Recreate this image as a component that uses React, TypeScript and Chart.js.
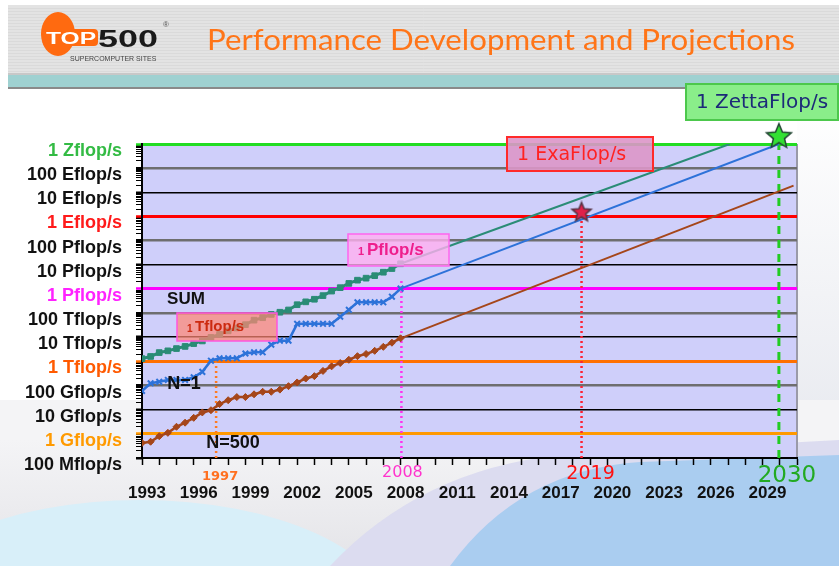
import React, { useEffect, useRef } from 'react';
import { Chart, registerables } from 'chart.js';
Chart.register(...registerables);

// ---- data (performance in Gflop/s) ----
const listYears = [1993, 1993.5, 1994, 1994.5, 1995, 1995.5, 1996, 1996.5, 1997, 1997.5, 1998, 1998.5, 1999, 1999.5, 2000, 2000.5, 2001, 2001.5, 2002, 2002.5, 2003, 2003.5, 2004, 2004.5, 2005, 2005.5, 2006, 2006.5, 2007, 2007.5, 2008];
const sumGflops = [1300, 1600, 2317, 2732, 3394, 4161, 5454, 7022, 9837, 13112, 18403, 24200, 33100, 50900, 64300, 88100, 108500, 134500, 222000, 292000, 374000, 528000, 813000, 1127000, 1690000, 2300000, 2790000, 3540000, 4920000, 6970000, 11000000];
const n1Gflops = [59.7, 124, 143.4, 170, 170, 170, 220.4, 368.2, 1068, 1338, 1338, 1338, 2121, 2379, 2379, 4938, 7226, 7226, 35860, 35860, 35860, 35860, 35860, 70720, 136800, 280600, 280600, 280600, 280600, 478200, 1026000];
const n500Gflops = [0.422, 0.472, 0.8, 1.1, 1.96, 2.9, 4.6, 7.7, 9.5, 17.1, 24.7, 33.3, 33.3, 43.3, 55.1, 55.1, 67.8, 94.3, 134, 195, 245, 403, 624, 851, 1166, 1646, 2026, 2737, 4005, 5929, 9000];

const projSumYears = [2008, 2027.1];
const projSumGflops = [11000000, 1e12];
const projN1Years = [2008, 2029.95];
const projN1Gflops = [1026000, 1e12];
const projN500Years = [2008, 2030.8];
const projN500Gflops = [9000, 1.9e10];

const markerYears = [1997.3, 2008.05, 2018.5, 2029.95];
const markerTops = [1000, 2.3e6, 1.46e9, 2e12];
const markerLabels = ['1997', '2008', '2019', '2030'];

const starYears = [2018.5, 2029.95];
const starGflops = [1.46e9, 2e12];

const yTickLabels = ['100 Mflop/s', '1 Gflop/s', '10 Gflop/s', '100 Gflop/s', '1 Tflop/s', '10 Tflop/s', '100 Tflop/s', '1 Pflop/s', '10 Pflop/s', '100 Pflop/s', '1 Eflop/s', '10 Eflop/s', '100 Eflop/s', '1 Zflop/s'];
const xTickYears = [1993, 1996, 1999, 2002, 2005, 2008, 2011, 2014, 2017, 2020, 2023, 2026, 2029];
const seriesNames = ['SUM', 'N=1', 'N=500'];
const title = 'Performance Development and Projections';
const boxTexts = ['1 Tflop/s', '1 Pflop/s', '1 ExaFlop/s', '1 ZettaFlop/s'];

// ---- styles ----
const SANS = '"Liberation Sans", Arial, sans-serif';
const DEJA = '"DejaVu Sans", Verdana, sans-serif';
const specialLine: Record<number, string> = { 1: '#ff9900', 4: '#ff7000', 7: '#ff00ff', 10: '#ff0000', 13: '#22dd22' };
const specialText: Record<number, string> = { 1: '#ff9a00', 4: '#ff5a00', 7: '#ff22ff', 10: '#ff1a1a', 13: '#33bb44' };

const decIdx = (v: number) => Math.round(Math.log10(v)) + 1;
const isMajor = (v: number) => Math.abs(Math.log10(v) - Math.round(Math.log10(v))) < 1e-6;

function makeStar(r: number, fill: string, stroke: string) {
  const c = document.createElement('canvas');
  const s = Math.ceil(r * 2 + 4);
  c.width = s; c.height = s;
  const g = c.getContext('2d')!;
  g.beginPath();
  for (let i = 0; i < 10; i++) {
    const rr = i % 2 === 0 ? r : r * 0.45;
    const a = -Math.PI / 2 + (i * Math.PI) / 5;
    const px = s / 2 + rr * Math.cos(a);
    const py = s / 2 + rr * Math.sin(a);
    if (i === 0) g.moveTo(px, py); else g.lineTo(px, py);
  }
  g.closePath();
  g.fillStyle = fill; g.fill();
  g.lineWidth = 1.5; g.strokeStyle = stroke; g.stroke();
  return c;
}

function fitText(ctx: CanvasRenderingContext2D, text: string, x: number, y: number, w: number) {
  const mw = ctx.measureText(text).width;
  ctx.save();
  ctx.translate(x, y);
  ctx.scale(w / mw, 1);
  ctx.fillText(text, 0, 0);
  ctx.restore();
}

const decorPlugin = {
  id: 'decor',
  beforeDraw(chart: any) {
    const ctx = chart.ctx as CanvasRenderingContext2D;
    const W = chart.width, H = chart.height;
    const ca = chart.chartArea;
    ctx.save();
    // page background
    ctx.fillStyle = '#ffffff';
    ctx.fillRect(0, 0, W, H);
    let gr = ctx.createLinearGradient(0, 100, 0, 470);
    gr.addColorStop(0, '#ffffff'); gr.addColorStop(1, '#e6e8ee');
    ctx.fillStyle = gr; ctx.fillRect(797, 90, 42, 380);
    gr = ctx.createLinearGradient(0, 440, 0, 566);
    gr.addColorStop(0, '#f4f4f6'); gr.addColorStop(1, '#e4e4e8');
    ctx.fillStyle = gr; ctx.fillRect(0, 400, W, 166);
    ctx.fillStyle = '#d8eff9';
    ctx.beginPath(); ctx.ellipse(140, 615, 250, 115, 0, 0, Math.PI * 2); ctx.fill();
    ctx.fillStyle = '#dcdcf0';
    ctx.beginPath();
    ctx.moveTo(330, 566); ctx.quadraticCurveTo(420, 470, 560, 455); ctx.lineTo(839, 440); ctx.lineTo(839, 566); ctx.closePath(); ctx.fill();
    ctx.fillStyle = '#aacdf0';
    ctx.beginPath();
    ctx.moveTo(450, 566); ctx.quadraticCurveTo(520, 470, 640, 462); ctx.lineTo(839, 455); ctx.lineTo(839, 566); ctx.closePath(); ctx.fill();

    // header
    ctx.fillStyle = '#e3e3e3';
    ctx.fillRect(8, 5, W - 8, 69);
    ctx.strokeStyle = '#dadada'; ctx.lineWidth = 1;
    for (let y = 8; y < 74; y += 3) { ctx.beginPath(); ctx.moveTo(8, y + 0.5); ctx.lineTo(W, y + 0.5); ctx.stroke(); }
    ctx.fillStyle = '#c8c8c8'; ctx.fillRect(8, 73, W - 8, 2);
    ctx.fillStyle = '#9fd1d1'; ctx.fillRect(8, 75, W - 8, 12);
    ctx.fillStyle = '#8a8a8a'; ctx.fillRect(8, 87, W - 8, 2);
    // logo
    ctx.fillStyle = '#ff6a10';
    ctx.beginPath(); ctx.ellipse(58, 34, 17, 22, 0, 0, Math.PI * 2); ctx.fill();
    ctx.beginPath(); ctx.roundRect(43, 29, 55, 17, 4); ctx.fill();
    ctx.textBaseline = 'alphabetic'; ctx.textAlign = 'left';
    ctx.fillStyle = '#ffffff';
    ctx.font = 'bold 16px ' + SANS;
    fitText(ctx, 'TOP', 46, 44, 50);
    ctx.fillStyle = '#1a1a1a';
    ctx.font = 'bold 24px ' + SANS;
    fitText(ctx, '500', 98, 47, 60);
    ctx.font = '8px ' + SANS; ctx.fillStyle = '#555';
    ctx.fillText('®', 163, 27);
    ctx.font = '7px ' + SANS; ctx.fillStyle = '#444';
    ctx.fillText('SUPERCOMPUTER SITES', 70, 61, 92);
    // title
    ctx.font = '29px Lato, "Open Sans", sans-serif';
    ctx.fillStyle = '#ff7518';
    fitText(ctx, title, 207, 50, 588);

    // plot background
    ctx.fillStyle = '#cfcffa';
    ctx.fillRect(ca.left, ca.top, ca.right - ca.left, ca.bottom - ca.top);
    ctx.fillStyle = '#9a9aa8';
    ctx.fillRect(ca.right - 1, ca.top, 2, ca.bottom - ca.top);
    ctx.restore();
  },
  afterDatasetsDraw(chart: any) {
    const ctx = chart.ctx as CanvasRenderingContext2D;
    ctx.save();
    ctx.textBaseline = 'middle';
    ctx.textAlign = 'left';
    // 1 Tflop/s box
    ctx.fillStyle = 'rgba(255,135,115,0.72)';
    ctx.fillRect(177, 313, 100, 28);
    ctx.strokeStyle = '#ff55dd'; ctx.lineWidth = 1.5; ctx.strokeRect(177, 313, 100, 28);
    ctx.fillStyle = '#cc2a10';
    const t1 = boxTexts[0].split(' ');
    ctx.font = 'bold 10px ' + SANS; ctx.fillText(t1[0], 187, 329);
    ctx.font = 'bold 15px ' + SANS; ctx.fillText(t1[1], 195, 327);
    // 1 Pflop/s box
    ctx.fillStyle = 'rgba(255,175,240,0.8)';
    ctx.fillRect(348, 234, 101, 32);
    ctx.strokeStyle = '#ff66ee'; ctx.lineWidth = 1.5; ctx.strokeRect(348, 234, 101, 32);
    ctx.fillStyle = '#ee1f8c';
    const t2 = boxTexts[1].split(' ');
    ctx.font = 'bold 11px ' + SANS; ctx.fillText(t2[0], 358, 252);
    ctx.font = 'bold 17px ' + SANS; ctx.fillText(t2[1], 367, 250);
    // 1 ExaFlop/s box
    ctx.fillStyle = 'rgba(220,150,200,0.9)';
    ctx.fillRect(507, 137, 146, 34);
    ctx.strokeStyle = '#ff2a2a'; ctx.lineWidth = 2; ctx.strokeRect(507, 137, 146, 34);
    ctx.fillStyle = '#ff2222';
    ctx.font = '19px ' + DEJA; ctx.fillText(boxTexts[2], 517, 155, 126);
    // series labels
    ctx.fillStyle = '#111';
    ctx.textAlign = 'center';
    ctx.font = 'bold 17px ' + SANS; ctx.fillText(seriesNames[0], 186, 299);
    ctx.font = 'bold 18px ' + SANS; ctx.fillText(seriesNames[1], 184, 384);
    ctx.fillText(seriesNames[2], 233, 443);
    ctx.restore();
  },
  afterDraw(chart: any) {
    const ctx = chart.ctx as CanvasRenderingContext2D;
    const xs = chart.scales.x;
    ctx.save();
    // Zetta box
    ctx.fillStyle = '#8aee8a';
    ctx.fillRect(686, 84, 152, 36);
    ctx.strokeStyle = '#4cc84c'; ctx.lineWidth = 2; ctx.strokeRect(686, 84, 152, 36);
    ctx.fillStyle = '#1c2a78';
    ctx.textBaseline = 'middle'; ctx.textAlign = 'left';
    ctx.font = '20px ' + DEJA; ctx.fillText(boxTexts[3], 696, 103, 138);
    // marker year labels
    const cfg = [
      { c: '#ff7020', f: 'bold 13px ' + DEJA, y: 477, dx: 4 },
      { c: '#ff33cc', f: '16px ' + DEJA, y: 473, dx: 1 },
      { c: '#ff1111', f: '19px ' + DEJA, y: 474, dx: 9 },
      { c: '#22aa22', f: '23px ' + DEJA, y: 476, dx: 8 },
    ];
    ctx.textAlign = 'center';
    markerLabels.forEach((lab, i) => {
      ctx.fillStyle = cfg[i].c; ctx.font = cfg[i].f;
      ctx.fillText(lab, xs.getPixelForValue(markerYears[i]) + cfg[i].dx, cfg[i].y);
    });
    ctx.restore();
  },
};

export default function App() {
  const ref = useRef<HTMLCanvasElement>(null);
  useEffect(() => {
    const redStar = makeStar(10, '#e0204a', '#553344');
    const greenStar = makeStar(13, '#33e033', '#224433');
    const pts = (xs: number[], ys: number[]) => xs.map((x, i) => ({ x, y: ys[i] }));
    const markerColors = ['#ff7a20', '#ff33ee', '#ff2233', '#22cc22'];
    const markerSets = markerYears.map((yr, i) => ({
      data: [{ x: yr, y: 0.1 }, { x: yr, y: markerTops[i] }],
      borderColor: markerColors[i],
      borderWidth: i === 3 ? 3 : 2.5,
      borderDash: i === 3 ? [8, 6] : [2, 3],
      pointRadius: 0,
      clip: i === 3 ? false : undefined,
      order: 5,
    }));
    const chart = new Chart(ref.current!, {
      type: 'line',
      data: {
        datasets: [
          ...markerSets,
          { label: 'SUM proj', data: pts(projSumYears, projSumGflops), borderColor: '#2a8c76', borderWidth: 2, pointRadius: 0, order: 3 },
          { label: 'N=1 proj', data: pts(projN1Years, projN1Gflops), borderColor: '#2d72d9', borderWidth: 2, pointRadius: 0, order: 3 },
          { label: 'N=500 proj', data: pts(projN500Years, projN500Gflops), borderColor: '#a5461a', borderWidth: 2, pointRadius: 0, order: 3 },
          { label: seriesNames[0], data: pts(listYears, sumGflops), borderColor: '#2a8c76', backgroundColor: '#2a8c76', borderWidth: 3, pointStyle: 'rect', pointRadius: 4, pointBorderWidth: 1, order: 2 },
          { label: seriesNames[1], data: pts(listYears, n1Gflops), borderColor: '#2d72d9', backgroundColor: '#2d72d9', borderWidth: 2.5, pointStyle: 'crossRot', pointRadius: 4, pointBorderWidth: 2, order: 2 },
          { label: seriesNames[2], data: pts(listYears, n500Gflops), borderColor: '#a5461a', backgroundColor: '#a5461a', borderWidth: 2.5, pointStyle: 'rectRot', pointRadius: 3.5, pointBorderWidth: 1, order: 2 },
          { label: 'stars', data: pts(starYears, starGflops), showLine: false, pointStyle: [redStar, greenStar] as any, pointRadius: 10, clip: false as any, order: 1 },
        ] as any,
      },
      options: {
        responsive: false,
        devicePixelRatio: 1,
        animation: false,
        events: [],
        layout: { padding: { top: 144, right: 42, left: 0, bottom: 0 } },
        plugins: { legend: { display: false }, tooltip: { enabled: false } },
        scales: {
          x: {
            type: 'linear', min: 1993, max: 2031,
            afterFit: (s: any) => { s.height = 108; },
            ticks: {
              stepSize: 1, autoSkip: false, maxRotation: 0, minRotation: 0, labelOffset: 5, padding: 18,
              color: '#111', font: { family: SANS, size: 17, weight: 'bold' },
              callback: (v: any) => (xTickYears.includes(Math.round(v)) ? String(Math.round(v)) : ''),
            },
            grid: { drawOnChartArea: false, drawTicks: true, tickLength: 7, tickColor: '#000', tickWidth: 1.5 },
            border: { display: true, color: '#000', width: 2 },
          },
          y: {
            type: 'logarithmic', min: 0.1, max: 1e12,
            afterFit: (s: any) => { s.width = 142; },
            afterBuildTicks: (s: any) => {
              const t: any[] = [];
              for (let e = -1; e < 12; e++) for (let m = 1; m < 10; m++) t.push({ value: m * Math.pow(10, e) });
              t.push({ value: 1e12 });
              s.ticks = t;
            },
            ticks: {
              autoSkip: false, padding: 14, labelOffset: 7,
              font: { family: SANS, size: 18, weight: 'bold' },
              color: (c: any) => specialText[decIdx(c.tick.value)] || '#111',
              callback: (v: any) => (isMajor(v) ? yTickLabels[decIdx(v)] : ''),
            },
            grid: {
              drawTicks: true, tickLength: 6,
              color: (c: any) => {
                const v = c.tick?.value; if (v == null || !isMajor(v)) return 'rgba(0,0,0,0)';
                const i = decIdx(v);
                if (specialLine[i]) return specialLine[i];
                if (i === 0) return 'rgba(0,0,0,0)';
                return i % 3 === 0 ? '#6e6e6e' : '#000';
              },
              lineWidth: (c: any) => {
                const v = c.tick?.value; if (v == null || !isMajor(v)) return 1;
                const i = decIdx(v);
                if (specialLine[i]) return 3;
                return i % 3 === 0 ? 2.5 : 1.5;
              },
              tickColor: (c: any) => {
                const v = c.tick?.value; if (v != null && isMajor(v) && specialLine[decIdx(v)]) return specialLine[decIdx(v)];
                return '#000';
              },
              tickWidth: (c: any) => (c.tick && isMajor(c.tick.value) ? 2.5 : 1),
            },
            border: { display: true, color: '#000', width: 2 },
          },
        },
      } as any,
      plugins: [decorPlugin],
    });
    return () => chart.destroy();
  }, []);
  return (
    <div style={{ position: 'absolute', left: 0, top: 0, width: 839, height: 566 }}>
      <canvas ref={ref} width={839} height={566} style={{ width: 839, height: 566, display: 'block' }} />
    </div>
  );
}
